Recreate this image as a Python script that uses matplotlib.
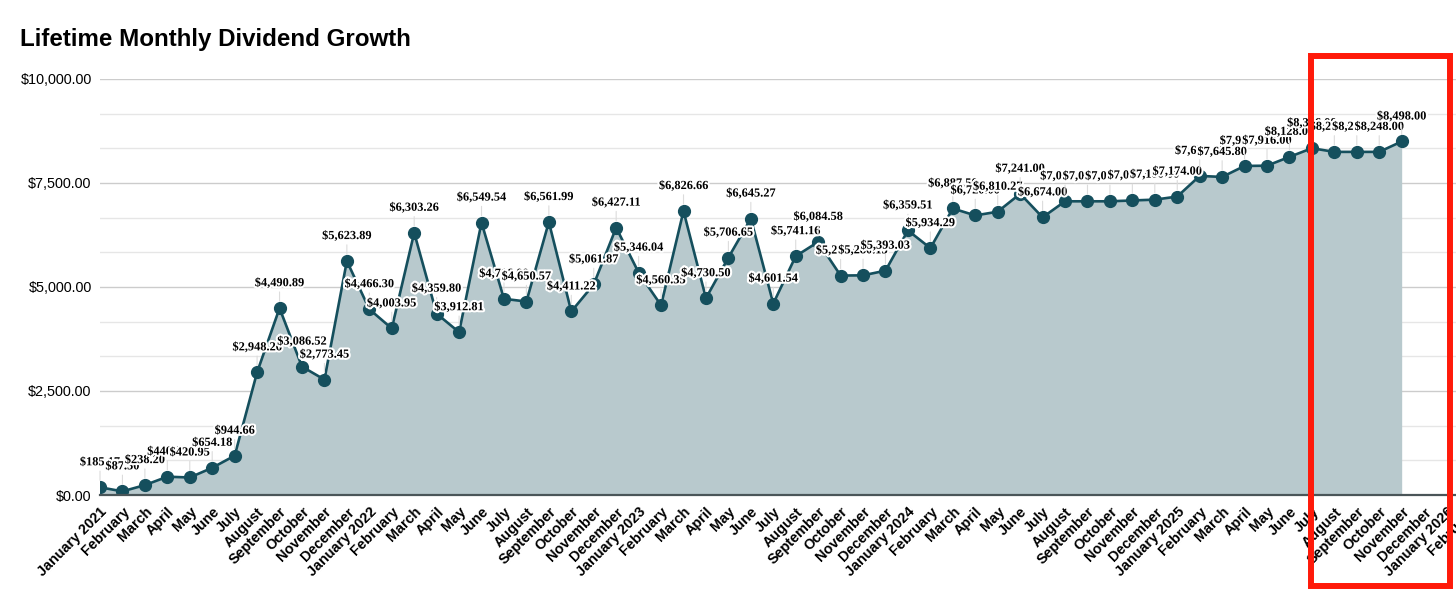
import matplotlib
matplotlib.use("Agg")
import matplotlib.pyplot as plt
import matplotlib.patheffects as pe
from matplotlib.patches import Rectangle
from matplotlib.ticker import FuncFormatter, MultipleLocator

# category labels (axis runs past the last data month)
month_names = ["January", "February", "March", "April", "May", "June", "July",
               "August", "September", "October", "November", "December"]
years = [2021, 2022, 2023, 2024, 2025, 2026]
n_categories = 62  # Jan 2021 .. Feb 2026

# monthly dividend income, Jan 2021 .. Nov 2025
dividends = [185.17, 87.50, 238.20, 440.00, 420.95, 654.18, 944.66, 2948.26, 4490.89, 3086.52, 2773.45, 5623.89,
             4466.30, 4003.95, 6303.26, 4359.80, 3912.81, 6549.54, 4716.00, 4650.57, 6561.99, 4411.22, 5061.87, 6427.11,
             5346.04, 4560.35, 6826.66, 4730.50, 5706.65, 6645.27, 4601.54, 5741.16, 6084.58, 5275.00, 5280.15, 5393.03,
             6359.51, 5934.29, 6887.50, 6720.00, 6810.27, 7241.00, 6674.00, 7060.00, 7060.00, 7060.00, 7080.00, 7100.00,
             7174.00, 7670.00, 7645.80, 7910.00, 7916.00, 8128.00, 8336.00, 8248.00, 8248.00, 8248.00, 8498.00]

tick_labels = []
for i in range(n_categories):
    m = month_names[i % 12]
    if i % 12 == 0:
        m = "%s %d" % (m, years[i // 12])
    tick_labels.append(m)

line_col = "#154f5d"
fill_col = "#b8c9cd"

plt.rcParams['font.family'] = ['Liberation Sans', 'DejaVu Sans']

fig = plt.figure(figsize=(14.56, 5.91), dpi=100)
W, H = 1456.0, 591.0
ax = fig.add_axes([100 / W, (H - 495) / H, (1469 - 100) / W, (495 - 79) / H])

x = list(range(len(dividends)))
ax.fill_between(x, dividends, 0, color=fill_col, lw=0, zorder=1)
ax.plot(x, dividends, '-', color=line_col, lw=1.9, zorder=3)
ax.plot(x, dividends, 'o', color=line_col, ms=8.5, zorder=3)

# data labels with white halo + faint leader line
for xi, v in zip(x, dividends):
    ax.annotate("${:,.2f}".format(v), (xi, v), xytext=(0, 18), textcoords='offset points',
                ha='center', va='center', fontsize=8.9, fontweight='bold',
                family=['Liberation Serif', 'DejaVu Serif'], color='black', zorder=5,
                path_effects=[pe.withStroke(linewidth=3, foreground='white')],
                arrowprops=dict(arrowstyle='-', color='#dcdcdc', lw=0.8, shrinkA=0, shrinkB=5))

ax.set_xlim(0, n_categories - 1)
ax.set_ylim(0, 10000)
ax.yaxis.set_major_locator(MultipleLocator(2500))
ax.yaxis.set_minor_locator(MultipleLocator(2500 / 3))
ax.yaxis.set_major_formatter(FuncFormatter(lambda v, p: "${:,.2f}".format(v)))
ax.grid(axis='y', which='major', color='#cccccc', lw=1.0, zorder=0)
ax.grid(axis='y', which='minor', color='#e6e6e6', lw=1.0, zorder=0)
ax.set_axisbelow(True)

ax.set_xticks(range(n_categories))
ax.set_xticklabels(tick_labels)
for lbl in ax.get_xticklabels():
    lbl.set_rotation(45)
    lbl.set_ha('right')
    lbl.set_va('top')
    lbl.set_rotation_mode('anchor')
    lbl.set_fontweight('bold')
    lbl.set_fontsize(10.4)
ax.tick_params(axis='x', length=0, pad=7)
ax.tick_params(axis='y', which='both', length=0, pad=6, labelsize=10.4)

for s in ['top', 'right', 'left']:
    ax.spines[s].set_visible(False)
ax.spines['bottom'].set_color('#4a5558')
ax.spines['bottom'].set_linewidth(1.6)
ax.spines['bottom'].set_zorder(4)

fig.text(20 / W, 1 - 39.5 / H, "Lifetime Monthly Dividend Growth", fontsize=17.4, fontweight='bold',
         ha='left', va='center')

# red highlight box
fig.patches.append(Rectangle((1310.5 / W, (H - 586) / H), (1449.5 - 1310.5) / W, (586 - 55.5) / H,
                             transform=fig.transFigure, fill=False, edgecolor='#ff1a0a', lw=4.3, zorder=10))

fig.savefig("out.png", dpi=100)
